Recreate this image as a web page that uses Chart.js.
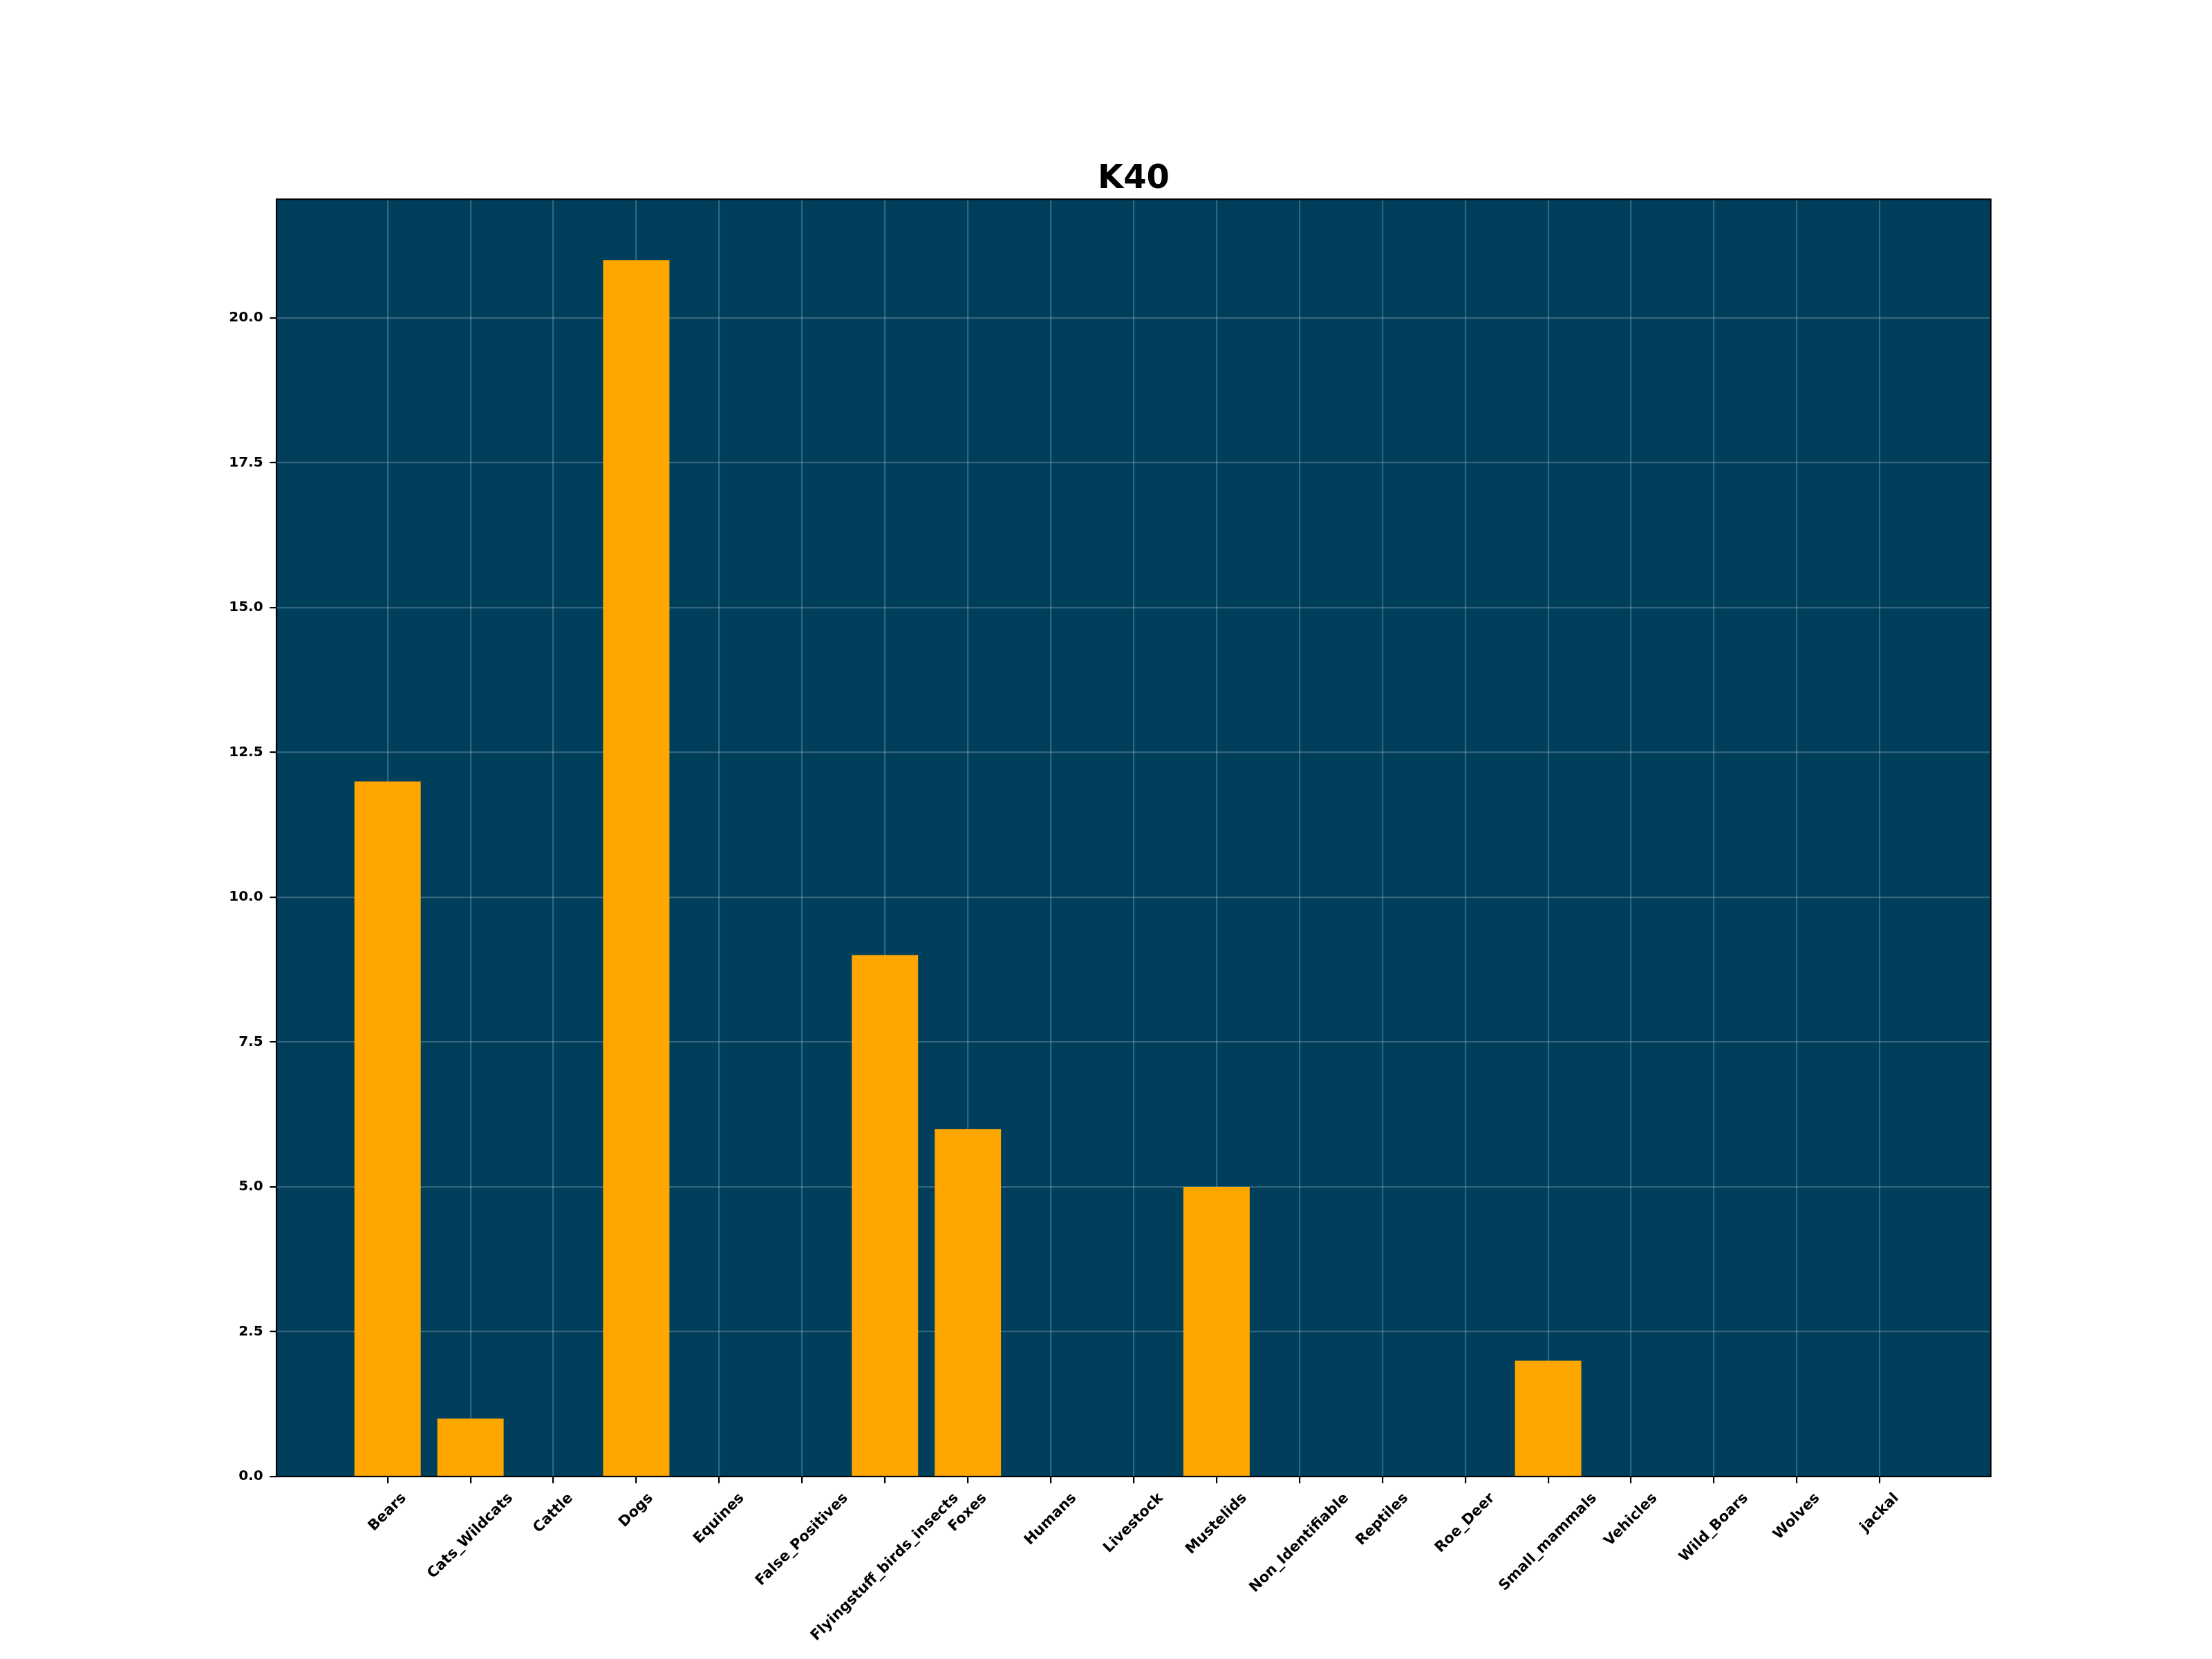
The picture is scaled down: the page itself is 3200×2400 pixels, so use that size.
<!DOCTYPE html>
<html>
<head>
<meta charset="utf-8">
<title>K40</title>
<script src="https://cdn.jsdelivr.net/npm/chart.js@4.4.1/dist/chart.umd.min.js"></script>
<style>
    html, body { margin: 0; padding: 0; background: #fff; }
    #wrap { width: 3200px; height: 2400px; }
</style>
</head>
<body>
<div id="wrap"><canvas id="k40Chart" width="3200" height="2400"></canvas></div>
<script>
// Datos del gráfico
const chartTitle = 'K40';
const categories = [
    'Bears', 'Cats_Wildcats', 'Cattle', 'Dogs', 'Equines', 'False_Positives',
    'Flyingstuff_birds_insects', 'Foxes', 'Humans', 'Livestock', 'Mustelids',
    'Non_Identifiable', 'Reptiles', 'Roe_Deer', 'Small_mammals', 'Vehicles',
    'Wild_Boars', 'Wolves', 'jackal'
];
const counts = [12, 1, 0, 21, 0, 0, 9, 6, 0, 0, 5, 0, 0, 0, 2, 0, 0, 0, 0];
const yTicks = [0, 2.5, 5, 7.5, 10, 12.5, 15, 17.5, 20];

const FONT = '"DejaVu Sans", "Liberation Sans", sans-serif';
const Y_TICK_SIZE = 20;
const X_TICK_SIZE = 21;

// fondo del área y marco (spines) encima de las barras
const framePlugin = {
    id: 'frame',
    beforeDraw(chart) {
        const a = chart.chartArea;
        const ctx = chart.ctx;
        ctx.save();
        ctx.fillStyle = '#003f5c';
        ctx.fillRect(a.left, a.top, a.right - a.left, a.bottom - a.top);
        ctx.restore();
    },
    afterDraw(chart) {
        const a = chart.chartArea;
        const ctx = chart.ctx;
        ctx.save();
        ctx.strokeStyle = '#000';
        ctx.lineWidth = 2.2;
        ctx.strokeRect(a.left, a.top, a.right - a.left, a.bottom - a.top);
        ctx.restore();
    }
};

// etiquetas del eje x rotadas 45º y centradas en la marca (como matplotlib)
const xLabelPlugin = {
    id: 'xLabels',
    afterDraw(chart) {
        const ctx = chart.ctx;
        const xs = chart.scales.x;
        const top = chart.chartArea.bottom + 9.7 + 9.7;
        const h = X_TICK_SIZE * 1.17;
        const s = Math.SQRT1_2;
        ctx.save();
        ctx.font = `bold ${X_TICK_SIZE}px ${FONT}`;
        ctx.fillStyle = '#000';
        ctx.textAlign = 'center';
        ctx.textBaseline = 'middle';
        categories.forEach((name, i) => {
            const w = ctx.measureText(name).width;
            const cx = xs.getPixelForValue(i);
            const cy = top + (w + h) * s / 2;
            ctx.save();
            ctx.translate(cx, cy);
            ctx.rotate(-Math.PI / 4);
            ctx.fillText(name, 0, 0);
            ctx.restore();
        });
        ctx.restore();
    }
};

const ctx = document.getElementById('k40Chart').getContext('2d');
new Chart(ctx, {
    type: 'bar',
    data: {
        datasets: [{
            label: chartTitle,
            data: categories.map((c, i) => ({ x: i, y: counts[i] })),
            backgroundColor: '#ffa600',
            borderWidth: 0,
            barPercentage: 0.8,
            categoryPercentage: 1.0
        }]
    },
    options: {
        responsive: false,
        animation: false,
        devicePixelRatio: 1,
        layout: { padding: { left: 0, right: 320, top: 0, bottom: 0 } },
        plugins: {
            legend: { display: false },
            tooltip: { enabled: false },
            title: {
                display: true,
                text: chartTitle,
                fullSize: false,
                align: 'center',
                color: '#000',
                font: { family: FONT, size: 48, weight: 'bold', lineHeight: 1.2 },
                padding: { top: 230.7, bottom: 0 }
            }
        },
        scales: {
            x: {
                type: 'linear',
                min: -1.34,
                max: 19.34,
                offset: false,
                afterBuildTicks: (scale) => {
                    scale.ticks = categories.map((c, i) => ({ value: i }));
                },
                afterFit: (scale) => { scale.height = 264; },
                border: { display: false },
                grid: {
                    offset: false,
                    color: 'rgba(255,255,255,0.2)',
                    lineWidth: 2.2,
                    drawTicks: true,
                    tickLength: 9.7,
                    tickColor: '#000',
                    tickWidth: 2.2
                },
                ticks: { display: false, autoSkip: false }
            },
            y: {
                type: 'linear',
                min: 0,
                max: 22.05,
                afterBuildTicks: (scale) => {
                    scale.ticks = yTicks.map(v => ({ value: v }));
                },
                afterFit: (scale) => { scale.width = 400; },
                border: { display: false },
                grid: {
                    color: 'rgba(255,255,255,0.2)',
                    lineWidth: 2.2,
                    drawTicks: true,
                    tickLength: 9.7,
                    tickColor: '#000',
                    tickWidth: 2.2
                },
                ticks: {
                    padding: 9.7,
                    color: '#000',
                    font: { family: FONT, size: Y_TICK_SIZE, weight: 'bold' },
                    callback: (v) => Number(v).toFixed(1)
                }
            }
        }
    },
    plugins: [framePlugin, xLabelPlugin]
});
</script>
</body>
</html>
